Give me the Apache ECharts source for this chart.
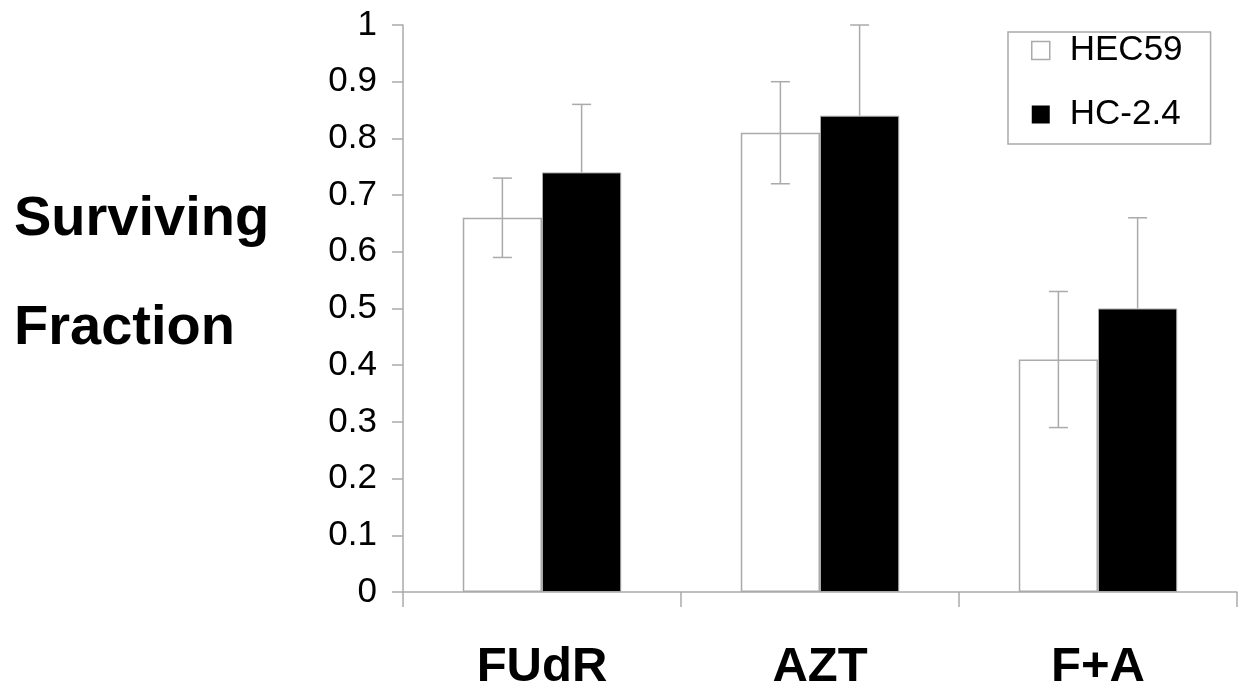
<!DOCTYPE html>
<html>
<head>
<meta charset="utf-8">
<script src="https://cdn.jsdelivr.net/npm/echarts@6/dist/echarts.min.js"></script>
<style>
html,body{margin:0;padding:0;background:#fff;}
#chart{width:1242px;height:692px;}
</style>
</head>
<body>
<div id="chart"></div>
<script>
var categories = ['FUdR', 'AZT', 'F+A'];
var seriesNames = ['HEC59', 'HC-2.4'];
var hec59 = [0.66, 0.81, 0.41];
var hec59Low = [0.59, 0.72, 0.29];
var hec59High = [0.73, 0.90, 0.53];
var hc24 = [0.74, 0.84, 0.50];
var hc24High = [0.86, 1.00, 0.66];

var FONT = '"Liberation Sans", Arial, Helvetica, sans-serif';
var GRAY = '#aaaaaa';
var CAT_GAP = 0.43;

function errData(vals, lows, highs) {
  return vals.map(function (v, i) { return [i, lows[i], highs[i]]; });
}

function errRender(sign) {
  return function (params, api) {
    var idx = api.value(0);
    var lo = api.coord([idx, api.value(1)]);
    var hi = api.coord([idx, api.value(2)]);
    var band = api.size([1, 0])[0];
    var bw = band * (1 - CAT_GAP) / 2;
    var x = lo[0] + sign * bw / 2;
    var cap = 9.5;
    var style = { stroke: GRAY, lineWidth: 1.5 };
    return {
      type: 'group',
      children: [
        { type: 'line', shape: { x1: x, y1: lo[1], x2: x, y2: hi[1] }, style: style },
        { type: 'line', shape: { x1: x - cap, y1: hi[1], x2: x + cap, y2: hi[1] }, style: style },
        { type: 'line', shape: { x1: x - cap, y1: lo[1], x2: x + cap, y2: lo[1] }, style: style, invisible: sign > 0 }
      ]
    };
  };
}

var chart = echarts.init(document.getElementById('chart'), null, { renderer: 'canvas' });
chart.setOption({
  animation: false,
  backgroundColor: '#ffffff',
  title: {
    text: 'Surviving\nFraction',
    left: 14,
    top: 165,
    padding: 0,
    textStyle: { fontFamily: FONT, fontSize: 56, fontWeight: 'bold', color: '#000', lineHeight: 109 }
  },
  legend: {
    orient: 'vertical',
    left: 1008,
    top: 32,
    padding: [1, 28, 12, 23],
    itemWidth: 18,
    itemHeight: 18,
    itemGap: 29,
    borderColor: GRAY,
    borderWidth: 1.5,
    textStyle: { fontFamily: FONT, fontSize: 35, color: '#000', padding: [0, 0, 0, 15] },
    data: [
      { name: seriesNames[0], icon: 'rect', itemStyle: { color: '#fff', borderColor: GRAY, borderWidth: 1.5 } },
      { name: seriesNames[1], icon: 'rect', itemStyle: { color: '#000', borderColor: '#000', borderWidth: 0 } }
    ]
  },
  grid: { left: 403, right: 5, top: 25, bottom: 99, containLabel: false },
  xAxis: {
    type: 'category',
    data: categories,
    axisLine: { lineStyle: { color: GRAY, width: 1.5 } },
    axisTick: { show: true, length: 15, lineStyle: { color: GRAY, width: 1.5 } },
    axisLabel: { fontFamily: FONT, fontSize: 49, fontWeight: 'bold', color: '#000', margin: 51 },
    splitLine: { show: false }
  },
  yAxis: {
    type: 'value',
    min: 0,
    max: 1,
    interval: 0.1,
    axisLine: { show: true, lineStyle: { color: GRAY, width: 1.5 } },
    axisTick: { show: true, length: 11, lineStyle: { color: GRAY, width: 1.5 } },
    axisLabel: { fontFamily: FONT, fontSize: 35, color: '#000', margin: 26 },
    splitLine: { show: false }
  },
  series: [
    {
      name: seriesNames[0],
      type: 'bar',
      data: hec59,
      barGap: '0%',
      barCategoryGap: (CAT_GAP * 100) + '%',
      itemStyle: { color: '#ffffff', borderColor: GRAY, borderWidth: 1.5 },
      z: 2
    },
    {
      name: seriesNames[1],
      type: 'bar',
      data: hc24,
      barGap: '0%',
      barCategoryGap: (CAT_GAP * 100) + '%',
      itemStyle: { color: '#000000', borderColor: GRAY, borderWidth: 1 },
      z: 2
    },
    {
      type: 'custom',
      renderItem: errRender(-1),
      data: errData(hec59, hec59Low, hec59High),
      encode: { x: 0, y: [1, 2] },
      z: 5,
      silent: true
    },
    {
      type: 'custom',
      renderItem: errRender(1),
      data: errData(hc24, hc24, hc24High),
      encode: { x: 0, y: [1, 2] },
      z: 5,
      silent: true
    }
  ]
});
</script>
</body>
</html>
